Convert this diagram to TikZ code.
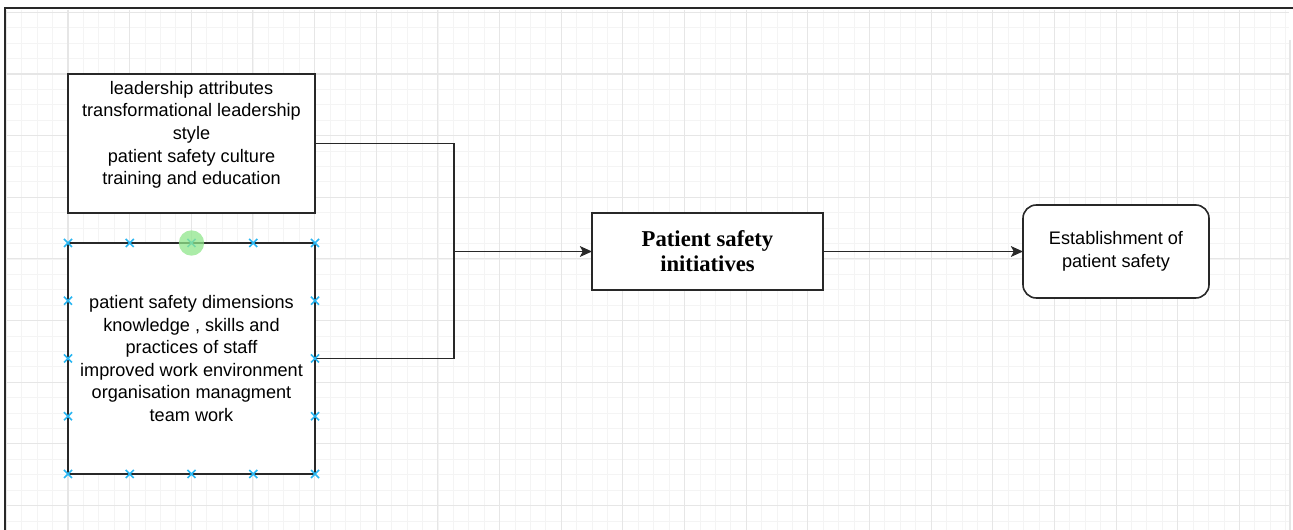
\documentclass[tikz,border=0pt]{standalone}
\usepackage{fontspec}
\setmainfont{Liberation Sans}
\newfontfamily\titlefont{Liberation Serif}
\usetikzlibrary{arrows.meta}
\definecolor{handle}{RGB}{41,182,242}
\definecolor{hover}{RGB}{144,230,140}
\definecolor{minorgrid}{RGB}{244,244,244}
\definecolor{majorgrid}{RGB}{230,230,230}
\definecolor{edge}{RGB}{40,40,40}
\tikzset{
  box/.style={draw=edge, line width=1.2pt, fill=white, inner sep=0pt, outer sep=0pt},
  bodytext/.style={align=center, font=\fontsize{13.6}{16.9}\selectfont, inner sep=0pt},
  link/.style={draw=edge, line width=1.3pt},
  arrowlink/.style={link, -{Stealth[length=9pt, width=8pt, inset=2pt]}},
  minorline/.style={draw=minorgrid, line width=0.6pt},
  majorline/.style={draw=majorgrid, line width=0.8pt},
  handlemark/.style={draw=handle, line width=1.3pt}
}
\begin{document}
\begin{tikzpicture}[x=0.75pt, y=-0.75pt]
\useasboundingbox (0,0) rectangle (1293,530);
\fill[white] (0,0) rectangle (1293,530);
% grid
\begin{scope}
\clip (6,10) rectangle (1289,530);
\foreach \i in {0,...,84} {
  \pgfmathsetmacro{\gx}{6.35+\i*15.4125}
  \draw[minorline] (\gx,10) -- (\gx,530);
}
\foreach \j in {0,...,34} {
  \pgfmathsetmacro{\gy}{12.35+\j*15.4125}
  \draw[minorline] (6,\gy) -- (1289,\gy);
}
\foreach \i in {0,...,21} {
  \pgfmathsetmacro{\gx}{6.35+\i*61.65}
  \draw[majorline] (\gx,10) -- (\gx,530);
}
\foreach \j in {0,...,8} {
  \pgfmathsetmacro{\gy}{12.35+\j*61.65}
  \draw[majorline] (6,\gy) -- (1289,\gy);
}
\end{scope}
% frame of the screenshot
\draw[line width=1.2pt, edge] (5,530) -- (5,8) -- (1293,8);
\draw[line width=0.8pt, majorgrid] (1290,40) -- (1290,530);

% boxes
\node[box, minimum width=185.25pt, minimum height=104.25pt] (b1) at (191.5,143.5) {};
\node[bodytext, anchor=north] (t1) at (191.5,81) {leadership attributes\\transformational leadership\\style\\patient safety culture\\training and education};
\node[box, minimum width=185.25pt, minimum height=173.25pt, bodytext] (b2) at (191.5,358.5) {patient safety dimensions\\knowledge , skills and\\practices of staff\\improved work environment\\organisation managment\\team work};
\node[box, minimum width=173.25pt, minimum height=57.75pt, align=center, font=\titlefont\bfseries\fontsize{17}{18.8}\selectfont] (b3) at (707.5,251.5) {Patient safety\\initiatives};
\node[box, rounded corners=10pt, minimum width=139.5pt, minimum height=69.75pt, bodytext] (b4) at (1116,251.5) {Establishment of\\patient safety};

% connectors
\coordinate (j) at (454,251.5);
\draw[link] (b1.east) -| (j) |- (b2.east);
\draw[arrowlink] (j) -- (b3.west);
\draw[arrowlink] (b3.east) -- (b4.west);

% selection handles of box 2
\foreach \hx in {68,129.75,191.5,253.25,315} {
  \foreach \hy in {243,474} {
    \draw[handlemark] (\hx-4,\hy-4) -- (\hx+4,\hy+4) (\hx-4,\hy+4) -- (\hx+4,\hy-4);
  }
}
\foreach \hy in {300.75,358.5,416.25} {
  \foreach \hx in {68,315} {
    \draw[handlemark] (\hx-4,\hy-4) -- (\hx+4,\hy+4) (\hx-4,\hy+4) -- (\hx+4,\hy-4);
  }
}
\fill[hover, opacity=0.75] (191.5,243) circle[radius=9.5pt];
\end{tikzpicture}
\end{document}
